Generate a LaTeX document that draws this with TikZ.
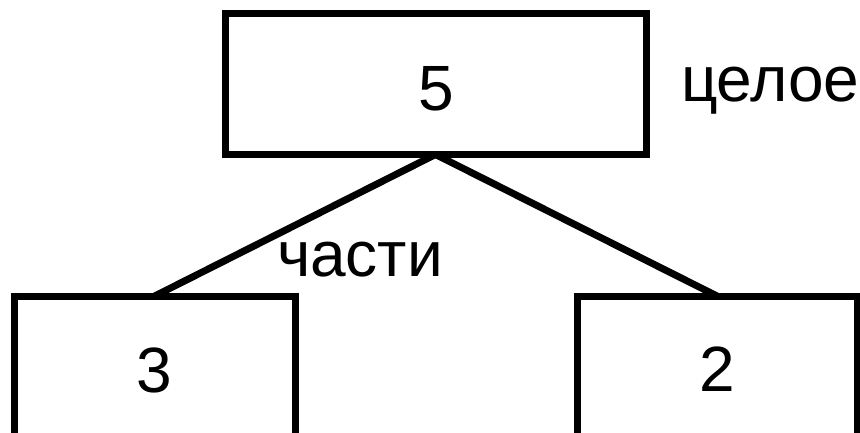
\documentclass[tikz,border=0pt]{standalone}
\usepackage{fontspec}
\setmainfont{Liberation Sans}
\begin{document}
\begin{tikzpicture}[x=1pt,y=-1pt,
  box/.style={draw=black,line width=7pt,inner sep=0pt,outer sep=0pt,fill=none},
  txt/.style={inner sep=0pt,outer sep=0pt,font=\fontsize{64}{70}\selectfont},
  conn/.style={line width=7pt}]
\useasboundingbox (0,0) rectangle (860,433);
\clip (0,0) rectangle (860,433);
\node[box,minimum width=421pt,minimum height=141pt] (whole) at (435.5,84) {};
\node[box,minimum width=280.5pt,minimum height=200pt] (left) at (154.75,396) {};
\node[box,minimum width=280pt,minimum height=200pt] (right) at (717,396) {};
\node[txt,anchor=base] (n5) at (436,111) {5};
\node[txt,anchor=base] (n3) at (154,392) {3};
\node[txt,anchor=base] (n2) at (717,391) {2};
\node[txt,anchor=base west] (celoe) at (681,102) {целое};
\node[txt,anchor=base west] (chasti) at (277,276) {части};
\draw[conn] (whole.south) -- (left.north);
\draw[conn] (whole.south) -- (right.north);
\end{tikzpicture}
\end{document}
